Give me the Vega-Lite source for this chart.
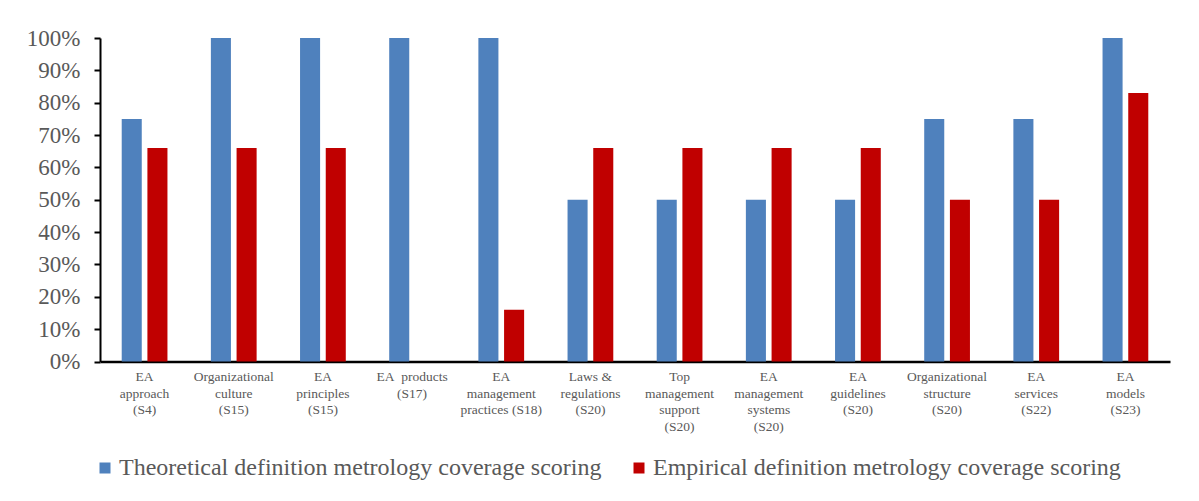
{
  "$schema": "https://vega.github.io/schema/vega-lite/v6.json",
  "width": 1070,
  "height": 323.5,
  "autosize": "none",
  "padding": {"left": 100, "top": 38, "right": 29, "bottom": 139.5},
  "background": "white",
  "config": {"view": {"stroke": null}, "font": "Liberation Serif"},
  "data": {
    "values": [
      {"category": "EA|approach|(S4)", "series": "Theoretical definition metrology coverage scoring", "value": 0.75},
      {"category": "EA|approach|(S4)", "series": "Empirical definition metrology coverage scoring", "value": 0.66},
      {"category": "Organizational|culture|(S15)", "series": "Theoretical definition metrology coverage scoring", "value": 1.0},
      {"category": "Organizational|culture|(S15)", "series": "Empirical definition metrology coverage scoring", "value": 0.66},
      {"category": "EA|principles|(S15)", "series": "Theoretical definition metrology coverage scoring", "value": 1.0},
      {"category": "EA|principles|(S15)", "series": "Empirical definition metrology coverage scoring", "value": 0.66},
      {"category": "EA\u00a0 products|(S17)", "series": "Theoretical definition metrology coverage scoring", "value": 1.0},
      {"category": "EA\u00a0 products|(S17)", "series": "Empirical definition metrology coverage scoring", "value": 0.0},
      {"category": "EA|management|practices (S18)", "series": "Theoretical definition metrology coverage scoring", "value": 1.0},
      {"category": "EA|management|practices (S18)", "series": "Empirical definition metrology coverage scoring", "value": 0.16},
      {"category": "Laws &|regulations|(S20)", "series": "Theoretical definition metrology coverage scoring", "value": 0.5},
      {"category": "Laws &|regulations|(S20)", "series": "Empirical definition metrology coverage scoring", "value": 0.66},
      {"category": "Top|management|support|(S20)", "series": "Theoretical definition metrology coverage scoring", "value": 0.5},
      {"category": "Top|management|support|(S20)", "series": "Empirical definition metrology coverage scoring", "value": 0.66},
      {"category": "EA|management|systems|(S20)", "series": "Theoretical definition metrology coverage scoring", "value": 0.5},
      {"category": "EA|management|systems|(S20)", "series": "Empirical definition metrology coverage scoring", "value": 0.66},
      {"category": "EA|guidelines|(S20)", "series": "Theoretical definition metrology coverage scoring", "value": 0.5},
      {"category": "EA|guidelines|(S20)", "series": "Empirical definition metrology coverage scoring", "value": 0.66},
      {"category": "Organizational|structure|(S20)", "series": "Theoretical definition metrology coverage scoring", "value": 0.75},
      {"category": "Organizational|structure|(S20)", "series": "Empirical definition metrology coverage scoring", "value": 0.5},
      {"category": "EA|services|(S22)", "series": "Theoretical definition metrology coverage scoring", "value": 0.75},
      {"category": "EA|services|(S22)", "series": "Empirical definition metrology coverage scoring", "value": 0.5},
      {"category": "EA|models|(S23)", "series": "Theoretical definition metrology coverage scoring", "value": 1.0},
      {"category": "EA|models|(S23)", "series": "Empirical definition metrology coverage scoring", "value": 0.83}
    ]
  },
  "mark": {"type": "bar"},
  "encoding": {
    "x": {
      "field": "category",
      "type": "nominal",
      "sort": null,
      "scale": {"paddingInner": 0.487, "paddingOuter": 0.2435},
      "axis": {
        "title": null,
        "labelExpr": "split(datum.label, '|')",
        "labelAngle": 0,
        "ticks": false,
        "domainColor": "black",
        "domainWidth": 2.5,
        "labelFont": "Liberation Serif",
        "labelFontSize": 13.5,
        "labelColor": "#595959",
        "labelLineHeight": 16.5,
        "labelPadding": 8,
        "labelBaseline": "top"
      }
    },
    "xOffset": {
      "field": "series",
      "type": "nominal",
      "sort": ["Theoretical definition metrology coverage scoring", "Empirical definition metrology coverage scoring"],
      "scale": {"paddingInner": 0.22, "paddingOuter": 0}
    },
    "y": {
      "field": "value",
      "type": "quantitative",
      "scale": {"domain": [0, 1]},
      "axis": {
        "title": null,
        "format": ".0%",
        "values": [0, 0.1, 0.2, 0.3, 0.4, 0.5, 0.6, 0.7, 0.8, 0.9, 1.0],
        "grid": false,
        "domainColor": "black",
        "domainWidth": 2,
        "tickColor": "black",
        "tickWidth": 2,
        "tickSize": 6,
        "labelFont": "Liberation Serif",
        "labelFontSize": 23,
        "labelColor": "#595959",
        "labelPadding": 14
      }
    },
    "color": {
      "field": "series",
      "type": "nominal",
      "sort": ["Theoretical definition metrology coverage scoring", "Empirical definition metrology coverage scoring"],
      "scale": {"range": ["#4F81BD", "#C00000"]},
      "legend": {
        "title": null,
        "orient": "none",
        "direction": "horizontal",
        "legendX": -7,
        "legendY": 418,
        "symbolType": "square",
        "symbolSize": 121,
        "symbolStrokeWidth": 0,
        "labelFont": "Liberation Serif",
        "labelFontSize": 24,
        "labelColor": "#595959",
        "labelOffset": 2,
        "columnPadding": 25,
        "labelLimit": 0
      }
    }
  }
}
